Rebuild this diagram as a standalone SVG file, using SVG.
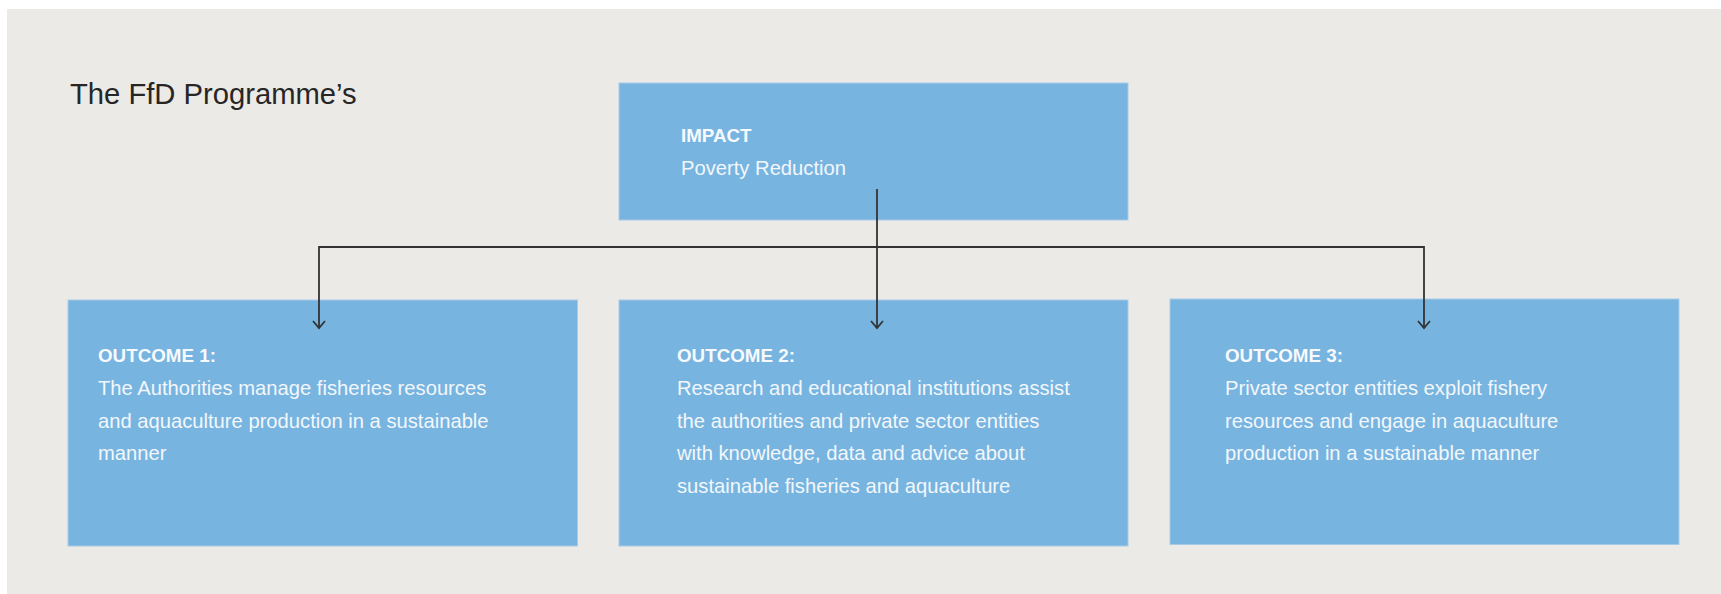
<svg xmlns="http://www.w3.org/2000/svg" width="1721" height="594" viewBox="0 0 1721 594">
  <style>
    .box { fill: #78B4E0; stroke: #A6CBE8; stroke-width: 1; }
    .title { font-family: "Liberation Sans", Arial, sans-serif; font-size: 29.2px; fill: #262626; }
    .head { font-family: "Liberation Sans", Arial, sans-serif; font-size: 18.8px; font-weight: bold; fill: #F7FAFD; }
    .body { font-family: "Liberation Sans", Arial, sans-serif; font-size: 20.2px; fill: #F2F7FB; }
    .conn { fill: none; stroke: #333333; stroke-width: 1.8; }
  </style>
  <defs>
    <marker id="arrow" markerUnits="userSpaceOnUse" markerWidth="20" markerHeight="20" viewBox="-10 -10 20 20" refX="0" refY="0" orient="auto">
      <path d="M-7,-6 L0,0 L-7,6" fill="none" stroke="#333333" stroke-width="1.8"/>
    </marker>
  </defs>
  <rect x="7" y="9" width="1714" height="585" fill="#ECEAE6"/>
  <text class="title" x="70" y="103.5">The FfD Programme’s</text>

  <g id="impact">
    <rect class="box" x="619" y="83" width="509" height="137"/>
    <text class="head" x="681" y="142">IMPACT</text>
    <text class="body" x="681" y="175">Poverty Reduction</text>
  </g>

  <g id="outcome1">
    <rect class="box" x="68" y="300" width="509.5" height="246"/>
    <text class="head" x="98" y="362">OUTCOME 1:</text>
    <text class="body" x="98" y="395">The Authorities manage fisheries resources</text>
    <text class="body" x="98" y="427.5">and aquaculture production in a sustainable</text>
    <text class="body" x="98" y="460">manner</text>
  </g>

  <g id="outcome2">
    <rect class="box" x="619" y="300" width="509" height="246"/>
    <text class="head" x="677" y="362">OUTCOME 2:</text>
    <text class="body" x="677" y="395">Research and educational institutions assist</text>
    <text class="body" x="677" y="427.5">the authorities and private sector entities</text>
    <text class="body" x="677" y="460">with knowledge, data and advice about</text>
    <text class="body" x="677" y="492.5">sustainable fisheries and aquaculture</text>
  </g>

  <g id="outcome3">
    <rect class="box" x="1170" y="299" width="509" height="245.5"/>
    <text class="head" x="1225" y="362">OUTCOME 3:</text>
    <text class="body" x="1225" y="395">Private sector entities exploit fishery</text>
    <text class="body" x="1225" y="427.5">resources and engage in aquaculture</text>
    <text class="body" x="1225" y="460">production in a sustainable manner</text>
  </g>

  <g id="connectors">
    <path class="conn" d="M877,189 V328" marker-end="url(#arrow)"/>
    <path class="conn" d="M877,247 H319 V328" marker-end="url(#arrow)"/>
    <path class="conn" d="M877,247 H1424 V328" marker-end="url(#arrow)"/>
  </g>
</svg>
